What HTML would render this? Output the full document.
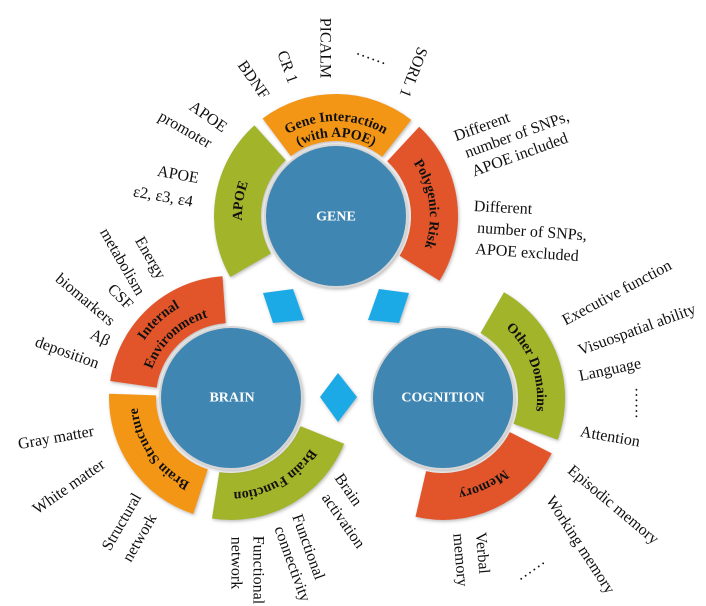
<!DOCTYPE html>
<html><head><meta charset="utf-8"><style>
html,body{margin:0;padding:0;background:#fff;}
svg{display:block;}
.l{font-family:"Liberation Serif",serif;font-size:16px;fill:#111;}
.r{font-family:"Liberation Serif",serif;font-size:14px;font-weight:bold;fill:#111;}
.c{font-family:"Liberation Serif",serif;font-size:14px;font-weight:bold;fill:#fff;}
</style></head><body>
<svg width="706" height="606" viewBox="0 0 706 606" xmlns="http://www.w3.org/2000/svg">
<defs>
<filter id="sh" x="-20%" y="-20%" width="140%" height="140%"><feDropShadow dx="1" dy="1.5" stdDeviation="1.5" flood-color="#777" flood-opacity="0.5"/></filter>
<path id="tApoe" d="M254.6,263 A94,94 0 0 1 273.1,146.2"/>
<path id="tGi1" d="M268.8,148.8 A95,95 0 0 1 403.2,148.8"/>
<path id="tGi2" d="M280.1,160.1 A79,79 0 0 1 391.9,160.1"/>
<path id="tPoly" d="M400.1,147.3 A94,94 0 0 1 415.7,265.8"/>
<path id="tIe1" d="M128,383.5 A104,104 0 0 1 223.7,294.2"/>
<path id="tIe2" d="M147.8,386.3 A84,84 0 0 1 225.1,314.2"/>
<path id="tBs" d="M202,487.4 A94,94 0 0 1 137.1,394.7"/>
<path id="tBf" d="M318.1,433.3 A94,94 0 0 1 216.3,490.9"/>
<path id="tOd" d="M490,316.6 A94,94 0 0 1 531.4,430.1"/>
<path id="tMem" d="M526.8,440.7 A94,94 0 0 1 421.9,489.6"/>
</defs>

<!-- ring segments -->
<g filter="url(#sh)">
<path d="M230.3,277 A122,122 0 0 1 254.4,125.4 L285.8,160.3 A75,75 0 0 0 271,253.5 Z" fill="#A2B42C"/>
<path d="M262.6,118.5 A122,122 0 0 1 411.2,119.9 L382.2,156.9 A75,75 0 0 0 290.8,156.1 Z" fill="#F39613"/>
<path d="M419.2,126.8 A122,122 0 0 1 439.5,280.7 L399.6,255.8 A75,75 0 0 0 387.2,161.2 Z" fill="#E2552B"/>
<path d="M110.2,381 A122,122 0 0 1 222.5,276.2 L225.7,323.1 A75,75 0 0 0 156.7,387.6 Z" fill="#E2552B"/>
<path d="M193.3,514 A122,122 0 0 1 109.1,393.7 L156.1,395.4 A75,75 0 0 0 207.8,469.3 Z" fill="#F39613"/>
<path d="M344.1,443.8 A122,122 0 0 1 212,518.5 L219.3,472.1 A75,75 0 0 0 300.5,426.1 Z" fill="#A2B42C"/>
<path d="M504,292.3 A122,122 0 0 1 557.7,439.7 L513.5,423.7 A75,75 0 0 0 480.5,333 Z" fill="#A2B42C"/>
<path d="M551.7,453.4 A122,122 0 0 1 415.5,516.8 L426.1,471.1 A75,75 0 0 0 509.8,432.1 Z" fill="#E2552B"/>
</g>

<!-- ring labels -->
<text class="r"><textPath href="#tApoe" startOffset="50%" text-anchor="middle">APOE</textPath></text>
<text class="r"><textPath href="#tGi1" startOffset="50%" text-anchor="middle">Gene Interaction</textPath></text>
<text class="r"><textPath href="#tGi2" startOffset="50%" text-anchor="middle">(with APOE)</textPath></text>
<text class="r"><textPath href="#tPoly" startOffset="50%" text-anchor="middle">Polygenic Risk</textPath></text>
<text class="r"><textPath href="#tIe1" startOffset="50%" text-anchor="middle">Internal</textPath></text>
<text class="r"><textPath href="#tIe2" startOffset="50%" text-anchor="middle">Environment</textPath></text>
<text class="r"><textPath href="#tBs" startOffset="50%" text-anchor="middle">Brain Structure</textPath></text>
<text class="r"><textPath href="#tBf" startOffset="50%" text-anchor="middle">Brain Function</textPath></text>
<text class="r"><textPath href="#tOd" startOffset="50%" text-anchor="middle">Other Domains</textPath></text>
<text class="r"><textPath href="#tMem" startOffset="50%" text-anchor="middle">Memory</textPath></text>

<!-- circles -->
<g filter="url(#sh)">
<circle cx="336" cy="216" r="71" fill="#3F86B2" stroke="#d6d6d6" stroke-width="2"/>
<circle cx="231" cy="398" r="71" fill="#3F86B2" stroke="#d6d6d6" stroke-width="2"/>
<circle cx="443" cy="398" r="71" fill="#3F86B2" stroke="#d6d6d6" stroke-width="2"/>
</g>
<text class="c" x="336" y="217" text-anchor="middle" dominant-baseline="central">GENE</text>
<text class="c" x="232" y="398" text-anchor="middle" dominant-baseline="central">BRAIN</text>
<text class="c" x="443" y="398" text-anchor="middle" dominant-baseline="central">COGNITION</text>

<!-- diamonds -->
<g fill="#1CAAE6" filter="url(#sh)">
<polygon points="263,293 293,289 304,320 273,323"/>
<polygon points="409,293 379,289 368,320 399,323"/>
<polygon points="338,373 357,397 338,422 320,397"/>
</g>

<!-- outer labels -->
<g class="l" text-anchor="middle" dominant-baseline="central">
<text transform="translate(253,80) rotate(55)">BDNF</text>
<text transform="translate(287,67) rotate(70)">CR 1</text>
<text transform="translate(325,48) rotate(90)">PICALM</text>
<text transform="translate(372,55) rotate(20)">……</text>
<text transform="translate(413,72) rotate(111)">SORL 1</text>
<text transform="translate(208,117) rotate(35)">APOE</text>
<text transform="translate(185,130) rotate(30)">promoter</text>
<text transform="translate(178,175) rotate(10)">APOE</text>
<text transform="translate(163,197) rotate(10)">ε2, ε3, ε4</text>

<text transform="translate(482,127) rotate(-20)">Different</text>
<text transform="translate(517,135) rotate(-20)">number of SNPs,</text>
<text transform="translate(520,155) rotate(-20)">APOE included</text>
<text transform="translate(503,208) rotate(3)">Different</text>
<text transform="translate(532,232) rotate(4)">number of SNPs,</text>
<text transform="translate(527,253) rotate(4)">APOE excluded</text>

<text transform="translate(150,258) rotate(60)">Energy</text>
<text transform="translate(122,262) rotate(60)">metabolism</text>
<text transform="translate(120,297) rotate(45)">CSF</text>
<text transform="translate(85,300) rotate(40)">biomarkers</text>
<text transform="translate(100,338) rotate(25)">Aβ</text>
<text transform="translate(67,353) rotate(20)">deposition</text>

<text transform="translate(56,438) rotate(-10)">Gray matter</text>
<text transform="translate(69,487) rotate(-35)">White matter</text>
<text transform="translate(122,522) rotate(-60)">Structural</text>
<text transform="translate(140,538) rotate(-60)">network</text>
<text transform="translate(258,570) rotate(90)">Functional</text>
<text transform="translate(236,563) rotate(90)">network</text>
<text transform="translate(308,547) rotate(70)">Functional</text>
<text transform="translate(292,564) rotate(70)">connectivity</text>
<text transform="translate(348,490) rotate(55)">Brain</text>
<text transform="translate(343,521) rotate(55)">activation</text>

<text transform="translate(617,293) rotate(-28)">Executive function</text>
<text transform="translate(637,330) rotate(-20)">Visuospatial ability</text>
<text transform="translate(610,370) rotate(-12)">Language</text>
<text transform="translate(640,403) rotate(90)">……</text>
<text transform="translate(610,437) rotate(10)">Attention</text>

<text transform="translate(613,505) rotate(40)">Episodic memory</text>
<text transform="translate(580,545) rotate(57)">Working memory</text>
<text transform="translate(530,568) rotate(-35)">……</text>
<text transform="translate(482,553) rotate(85)">Verbal</text>
<text transform="translate(460,560) rotate(85)">memory</text>
</g>
</svg>
</body></html>
